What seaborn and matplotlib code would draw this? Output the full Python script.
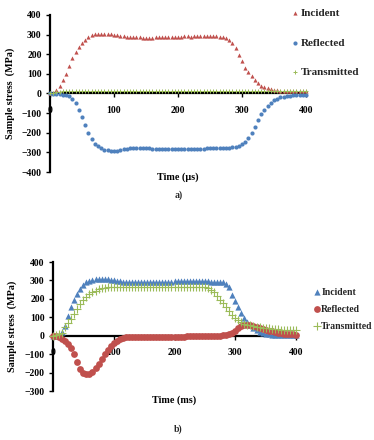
# stress_waves.py
import pandas as pd
import matplotlib
matplotlib.use("Agg")
import matplotlib.pyplot as plt
import seaborn as sns

# ---------- 1. DATA (5 unit steps) ----------
time_pts = list(range(0, 405, 5))

# panel a) - time in µs
a_incident = [0, 5, 18, 38, 67, 97, 140, 180, 210, 235, 255, 272, 288, 298, 302, 303, 303, 303, 303, 301,
              299, 297, 295, 292, 290, 288, 287, 286, 286, 285, 285, 285, 285, 286, 286, 287, 288, 288, 289, 289,
              290, 290, 291, 291, 290, 291, 291, 291, 292, 292, 292, 291, 291, 290, 289, 283, 275, 258, 232, 198,
              165, 132, 108, 87, 68, 52, 40, 32, 26, 22, 19, 16, 15, 14, 13, 12, 12, 12, 12, 12, 12]
a_reflected = [0, -1, -2, -4, -6, -9, -15, -27, -48, -85, -122, -162, -200, -233, -255, -268, -278, -286, -290, -292,
               -292, -291, -289, -285, -282, -280, -279, -278, -278, -279, -280, -280, -281, -281, -281, -281, -281, -281, -281, -281,
               -281, -281, -281, -281, -281, -281, -281, -281, -281, -280, -280, -279, -279, -278, -278, -277, -276, -274, -271, -265,
               -258, -245, -226, -203, -170, -135, -106, -83, -63, -47, -35, -26, -20, -16, -13, -11, -10, -9, -9, -8, -8]
a_transmitted = [0, 3, 7, 10, 11, 12, 12, 12, 12, 12, 12, 12, 12, 12, 12, 12, 12, 12, 12, 12,
                 12, 12, 12, 12, 12, 12, 12, 12, 12, 12, 12, 12, 12, 12, 12, 12, 12, 13, 13, 13,
                 13, 13, 13, 13, 13, 13, 13, 13, 13, 13, 13, 13, 13, 13, 13, 13, 13, 13, 13, 13,
                 13, 13, 13, 13, 13, 13, 13, 13, 13, 13, 13, 14, 14, 14, 14, 14, 14, 14, 14, 14, 14]

# panel b) - time in ms
b_incident = [0, 0, 5, 20, 55, 105, 155, 195, 228, 255, 276, 290, 299, 304, 307, 309, 309, 308, 306, 304,
              301, 298, 296, 294, 293, 292, 291, 291, 291, 291, 291, 292, 292, 292, 293, 293, 293, 294, 294, 294,
              295, 295, 295, 295, 295, 295, 295, 295, 295, 295, 295, 295, 294, 294, 293, 292, 289, 282, 262, 222,
              190, 158, 125, 98, 76, 58, 43, 31, 22, 15, 10, 7, 5, 4, 4, 3, 3, 3, 3, 3, 3]
b_reflected = [0, -3, -8, -16, -28, -45, -68, -100, -142, -178, -200, -210, -207, -195, -176, -152, -125, -100, -75, -55,
               -38, -26, -18, -12, -8, -6, -5, -5, -5, -5, -5, -6, -6, -6, -6, -6, -6, -6, -6, -6,
               -6, -5, -5, -5, -4, -4, -4, -3, -3, -3, -2, -2, -2, -1, -1, 0, 2, 5, 8, 14,
               28, 42, 53, 59, 59, 56, 51, 46, 41, 36, 31, 27, 23, 20, 17, 14, 12, 10, 8, 7, 6]
b_transmitted = [0, 2, 8, 15, 45, 70, 92, 120, 145, 170, 192, 210, 224, 236, 245, 252, 257, 260, 262, 263,
                 264, 265, 266, 266, 267, 267, 267, 267, 267, 267, 267, 267, 267, 267, 267, 267, 267, 267, 267, 267,
                 267, 267, 267, 267, 267, 267, 267, 267, 267, 265, 262, 257, 250, 235, 215, 195, 175, 155, 135, 115,
                 98, 85, 75, 66, 60, 56, 52, 49, 46, 44, 42, 40, 38, 36, 34, 33, 32, 31, 30, 30, 29]

signals = ["Incident", "Reflected", "Transmitted"]
panel_a = pd.DataFrame({"t": time_pts, "Incident": a_incident,
                        "Reflected": a_reflected, "Transmitted": a_transmitted})
panel_b = pd.DataFrame({"t": time_pts, "Incident": b_incident,
                        "Reflected": b_reflected, "Transmitted": b_transmitted})

# ---------- 2. STYLE ----------
sns.set_theme(style="white")
plt.rcParams["font.family"] = ["Liberation Serif", "DejaVu Serif"]
plt.rcParams["font.weight"] = "bold"
plt.rcParams["axes.labelweight"] = "bold"

blue, red, green = "#4F81BD", "#C0504D", "#9BBB59"

fig = plt.figure(figsize=(3.74, 4.40), dpi=100)
W, H = 374, 440


def style_axes(ax, ymin, ymax, xlab, xlab_y, ylab_x):
    ax.set_xlim(0, 400)
    ax.set_ylim(ymin, ymax)
    ax.set_xticks(range(0, 401, 100))
    ax.set_yticks(range(ymin, ymax + 1, 100))
    for s in ["top", "right"]:
        ax.spines[s].set_visible(False)
    ax.spines["bottom"].set_position(("data", 0))
    for s in ["left", "bottom"]:
        ax.spines[s].set_color("black")
        ax.spines[s].set_linewidth(1.6)
        ax.spines[s].set_zorder(1)
    ax.tick_params(axis="both", direction="out", length=3, width=1, color="black",
                   labelsize=7, labelcolor="black", left=True, bottom=True)
    ax.tick_params(axis="x", pad=6)
    ax.tick_params(axis="y", pad=3)
    ax.set_xlabel(xlab, fontsize=7.3, color="black")
    ax.set_ylabel("Sample stress  (MPa)", fontsize=7.3, color="black")
    ax.xaxis.set_label_coords(0.5, xlab_y)
    ax.yaxis.set_label_coords(ylab_x, 0.5)


# ---------- 3. PANEL a) ----------
ax1 = fig.add_axes([50 / W, 1 - 172 / H, 256 / W, 157 / H])
marks_a = {"Incident": ("^", red, 9), "Reflected": ("o", blue, 9), "Transmitted": ("+", green, 12)}
for name in signals:
    m, c, s = marks_a[name]
    kw = dict(linewidth=0.7) if m == "+" else dict(linewidth=0)
    sns.scatterplot(data=panel_a, x="t", y=name, marker=m, color=c, s=s,
                    label=name, ax=ax1, clip_on=False, zorder=3, **kw)
style_axes(ax1, -400, 400, "Time (µs)", 0.0, -0.135)
ax1.legend(loc="upper left", bbox_to_anchor=(292 / W, 1 - 8 / H), bbox_transform=fig.transFigure,
           frameon=False, fontsize=8, handlelength=0.6, handletextpad=0.2,
           borderpad=0, borderaxespad=0, labelspacing=1.8)

# ---------- 4. PANEL b) ----------
ax2 = fig.add_axes([53 / W, 1 - 391 / H, 243 / W, 129 / H])
marks_b = {"Incident": ("^", blue, 20), "Reflected": ("o", red, 24), "Transmitted": ("+", green, 30)}
for name in signals:
    m, c, s = marks_b[name]
    kw = dict(linewidth=0.8) if m == "+" else dict(linewidth=0)
    sns.scatterplot(data=panel_b, x="t", y=name, marker=m, color=c, s=s,
                    label=name, ax=ax2, clip_on=False, zorder=3, **kw)
style_axes(ax2, -300, 400, "Time (ms)", -0.035, -0.15)
ax2.legend(loc="upper left", bbox_to_anchor=(314 / W, 1 - 288 / H), bbox_transform=fig.transFigure,
           frameon=False, fontsize=7, handlelength=0.6, handletextpad=0.15,
           borderpad=0, borderaxespad=0, labelspacing=0.8)

# ---------- 5. PANEL TAGS ----------
fig.text(179 / W, 1 - 195 / H, "a)", fontsize=7, ha="center", va="center")
fig.text(178 / W, 1 - 429 / H, "b)", fontsize=7, ha="center", va="center")

fig.savefig("out.png", dpi=100)
